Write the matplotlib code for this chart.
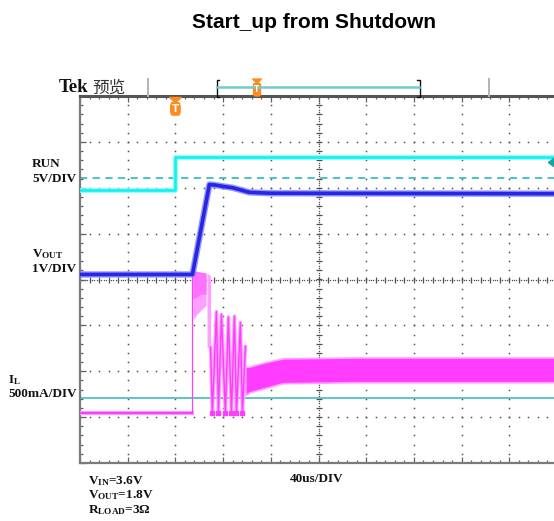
import matplotlib
matplotlib.use("Agg")
import matplotlib.pyplot as plt
import matplotlib.transforms as mtransforms
from matplotlib.patches import Polygon, FancyBboxPatch
from matplotlib.lines import Line2D
from matplotlib.ticker import MultipleLocator
import numpy as np

plt.rcParams['mathtext.fontset'] = 'custom'
plt.rcParams['mathtext.rm'] = 'Liberation Serif:bold'
plt.rcParams['mathtext.it'] = 'Liberation Serif:bold'
plt.rcParams['mathtext.bf'] = 'Liberation Serif:bold'

# ---------------- data ----------------
title = "Start_up from Shutdown"
t_min, t_max = -80, 320          # us, 40 us/div, trigger at 0

# RUN channel (5 V/div)
run_t = [-80, 0, 0, 320]
run_v = [0.0, 0.0, 3.6, 3.6]

# VOUT channel (1 V/div)
vout_t = [-80, 14.3, 28.5, 33, 40, 48, 55, 62, 80, 320]
vout_v = [0.11, 0.11, 2.07, 2.06, 2.03, 2.0, 1.95, 1.9, 1.88, 1.87]

# IL channel (500 mA/div)
il_pre_t = [-80, 14.3]
il_pre_v = [0.0, 0.0]
il_edge_t = [14.3, 14.3]
il_edge_v = [0.0, 1.55]
il_burst_t = [14.6, 18, 21, 25.7]
il_burst_hi = [1.55, 1.55, 1.54, 1.53]
il_burst_mid = [1.25, 1.27, 1.3, 1.3]
il_burst_lo = [1.02, 1.08, 1.12, 1.18]
il_drop_t = [26.5, 29.5]
il_drop_hi = [1.53, 1.50]
il_drop_lo = [0.72, 0.72]
il_pulse_t = [29.5, 31.0, 34.4, 36.1, 38.6, 41.9, 44.4, 47.0, 49.5, 51.2, 54.5, 56.2, 58.7]
il_pulse_v = [0.72, 0.0, 1.11, 0.0, 1.08, 0.0, 1.05, 0.0, 1.06, 0.0, 0.99, 0.0, 0.73]
il_band_t = [58.7, 62, 76, 90, 150, 320]
il_band_hi = [0.51, 0.51, 0.56, 0.60, 0.61, 0.61]
il_band_lo = [0.20, 0.23, 0.28, 0.33, 0.34, 0.34]

channel_labels = ["RUN", "5V/DIV", r"$\mathrm{V_{OUT}}$", "1V/DIV",
                  r"$\mathrm{I_{L}}$", "500mA/DIV"]
time_label = "40us/DIV"
cond_labels = [r"$\mathrm{V_{IN}}$=3.6V", r"$\mathrm{V_{OUT}}$=1.8V",
               r"$\mathrm{R_{LOAD}}$=3Ω"]

# ---------------- layout / style ----------------
W, H = 554, 521
RUN_OFF, RUN_SC = 1.96, 5.0
VOUT_OFF, VOUT_SC = 0.0, 1.0
IL_OFF, IL_SC = -2.92, 0.5
TRIG_LEVEL_DIV = 2.22
ARROW_DIV = 2.55
IL_REF_DIV = -2.59

C_RUN = '#10F0F0'
C_RUN_L = '#80FFFF'
C_VOUT = '#2626E4'
C_VOUT_L = '#7A7AFF'
C_IL = '#FF3CFF'
C_IL_L = '#FFA0FF'
C_TEAL = '#5CC6C6'
C_ORANGE = '#FF8A1E'
C_DOT = '#505050'


def d(v, off, sc):
    return off + np.asarray(v, dtype=float) / sc


fig = plt.figure(figsize=(W / 100, H / 100), dpi=100)
fig.patch.set_facecolor('white')
ax = fig.add_axes([80 / W, (H - 463) / H, 477 / W, 367 / H])
ax.set_xlim(t_min, t_max)
ax.set_ylim(-4, 4)
ax.set_facecolor('white')

# ---- graticule ----
ys_fine = np.arange(-4, 4.001, 0.2)
xs_fine = np.arange(t_min, t_max + 0.01, 8)
for x in range(-40, 320, 40):
    if x == 120:
        continue
    ax.plot([x] * len(ys_fine), ys_fine, ls='none', marker='s', ms=1.1,
            color=C_DOT, mew=0, zorder=1)
for y in range(-3, 4):
    if y == 0:
        continue
    ax.plot(xs_fine, [y] * len(xs_fine), ls='none', marker='s', ms=1.1,
            color=C_DOT, mew=0, zorder=1)
# centre lines
ys_dense = np.arange(-4, 4.001, 0.05)
xs_dense = np.arange(t_min, t_max + 0.01, 2)
ax.plot([120] * len(ys_dense), ys_dense, ls='none', marker='s', ms=0.9,
        color=C_DOT, mew=0, zorder=1)
ax.plot([120] * len(ys_fine), ys_fine, ls='none', marker='_', ms=5,
        color=C_DOT, mew=0.9, zorder=1)
ax.plot(xs_dense, [0] * len(xs_dense), ls='none', marker='s', ms=0.9,
        color=C_DOT, mew=0, zorder=1)
ax.plot(xs_fine, [0] * len(xs_fine), ls='none', marker='|', ms=5,
        color=C_DOT, mew=0.9, zorder=1)

ax.xaxis.set_major_locator(MultipleLocator(40))
ax.xaxis.set_minor_locator(MultipleLocator(8))
ax.yaxis.set_major_locator(MultipleLocator(1))
ax.yaxis.set_minor_locator(MultipleLocator(0.2))
ax.tick_params(which='both', direction='in', top=True, bottom=True, left=True,
               right=False, labelbottom=False, labelleft=False, color='#606060',
               width=0.9)
ax.tick_params(which='major', length=4.5)
ax.tick_params(which='minor', length=2.5)
for s in ['left', 'bottom']:
    ax.spines[s].set_color('#7a7a7a')
    ax.spines[s].set_linewidth(1.6)
ax.spines['top'].set_color('#555555')
ax.spines['top'].set_linewidth(2.2)
ax.spines['right'].set_visible(False)

# ---- reference lines ----
ax.axhline(TRIG_LEVEL_DIV, color='#3CBFBF', lw=1.3, ls=(0, (4, 3)), zorder=2)
ax.axhline(IL_REF_DIV, color=C_TEAL, lw=1.4, zorder=2)

# ---- IL trace ----
ax.plot(il_pre_t, d(il_pre_v, IL_OFF, IL_SC), color=C_IL_L, lw=3.0, zorder=3)
ax.plot(il_pre_t, d(il_pre_v, IL_OFF, IL_SC), color=C_IL, lw=1.6, zorder=3)
ax.plot(il_edge_t, d(il_edge_v, IL_OFF, IL_SC), color=C_IL, lw=0.9, zorder=3)
ax.fill_between(il_burst_t, d(il_burst_lo, IL_OFF, IL_SC),
                d(il_burst_hi, IL_OFF, IL_SC), color=C_IL_L, lw=0, zorder=3)
ax.fill_between(il_burst_t, d(il_burst_mid, IL_OFF, IL_SC),
                d(il_burst_hi, IL_OFF, IL_SC), color='#FF70FF', lw=0, zorder=3)
ax.fill_between(il_drop_t, d(il_drop_lo, IL_OFF, IL_SC),
                d(il_drop_hi, IL_OFF, IL_SC), color=C_IL_L, lw=0, zorder=3)
ax.plot(il_pulse_t, d(il_pulse_v, IL_OFF, IL_SC), color=C_IL_L, lw=2.6, zorder=3)
ax.plot(il_pulse_t, d(il_pulse_v, IL_OFF, IL_SC), color=C_IL, lw=1.0, zorder=3)
ax.plot(il_pulse_t[1::2], d(il_pulse_v[1::2], IL_OFF, IL_SC), ls='none',
        marker='s', ms=3, color=C_IL, zorder=3)
ax.fill_between(il_band_t, d(il_band_lo, IL_OFF, IL_SC),
                d(il_band_hi, IL_OFF, IL_SC), color=C_IL, lw=1.2,
                edgecolor=C_IL_L, zorder=3)

# ---- VOUT trace ----
ax.plot(vout_t, d(vout_v, VOUT_OFF, VOUT_SC), color=C_VOUT_L, lw=4.6, alpha=0.8,
        zorder=4)
ax.plot(vout_t, d(vout_v, VOUT_OFF, VOUT_SC), color=C_VOUT, lw=2.6, zorder=4)

# ---- RUN trace ----
ax.plot(run_t, d(run_v, RUN_OFF, RUN_SC), color=C_RUN_L, lw=3.4, zorder=5)
ax.plot(run_t, d(run_v, RUN_OFF, RUN_SC), color=C_RUN, lw=1.8, zorder=5)

# ---- trigger marker (T at t=0) ----
btr = mtransforms.blended_transform_factory(ax.transData, ax.transAxes)
ax.add_patch(Polygon([(-5, 0.996), (5, 0.996), (0, 0.982)], closed=True,
                     color=C_ORANGE, transform=btr, clip_on=False, zorder=6))
ax.add_patch(FancyBboxPatch((-4.0, 0.948), 8.0, 0.034,
                            boxstyle='round,pad=0,rounding_size=1.5',
                            color=C_ORANGE, transform=btr, clip_on=False,
                            zorder=6, mutation_aspect=0.01))
ax.text(0, 0.965, 'T', transform=btr, ha='center', va='center', color='white',
        fontsize=7.5, fontweight='bold', family='DejaVu Sans', zorder=7)

# trigger-level arrow on right edge
ax.add_patch(Polygon([(312.8, ARROW_DIV), (319, ARROW_DIV + 0.12),
                      (319, ARROW_DIV - 0.12)], closed=True, color='#1AA3A3',
                     zorder=6, clip_on=False))


# ---------------- texts & top bar ----------------
def fx(px):
    return px / W


def fy(py):
    return 1 - py / H


fig.text(fx(314), fy(28), title, ha='center', va='baseline', fontsize=15,
         fontweight='bold', family='Liberation Sans')
fig.text(fx(59), fy(92.5), 'Tek', ha='left', va='baseline', fontsize=13.5,
         fontweight='bold', family='Liberation Serif', color='#111111')
fig.text(fx(92), fy(93), '预览', ha='left', va='baseline', fontsize=12,
         family=['Noto Sans CJK SC', 'DejaVu Sans'], fontweight='light',
         color='#333333')

for px in (148, 489):
    fig.add_artist(Line2D([fx(px), fx(px)], [fy(79), fy(96)], color='#b4b4b4',
                          lw=1.4))
# record bracket
fig.add_artist(Line2D([fx(219), fx(216.5), fx(216.5), fx(219)],
                      [fy(80), fy(80), fy(97), fy(97)], color='#111111', lw=1.0))
fig.add_artist(Line2D([fx(417), fx(420), fx(420), fx(417)],
                      [fy(80), fy(80), fy(97), fy(97)], color='#111111', lw=1.0))
fig.add_artist(Line2D([fx(217), fx(419)], [fy(87), fy(87)], color='#72CACA',
                      lw=1.8))
fig.add_artist(Polygon([(fx(252.5), fy(79)), (fx(261.5), fy(79)),
                        (fx(257), fy(83))], closed=True, color=C_ORANGE,
                       transform=fig.transFigure))
fig.add_artist(FancyBboxPatch((fx(253.5), fy(96)), fx(7), fy(83) - fy(96),
                              boxstyle='round,pad=0,rounding_size=0.004',
                              color=C_ORANGE, transform=fig.transFigure))
fig.text(fx(257), fy(89.5), 'T', ha='center', va='center', color='white',
         fontsize=5.5, fontweight='bold', family='DejaVu Sans')

lab_kw = dict(ha='left', va='baseline', fontsize=9.5, fontweight='bold',
              family='Liberation Serif', color='#111111')
lab_pos = [(32, 167), (32, 182), (32, 257), (32, 272), (8, 383), (8, 397)]
for (px, py), s in zip(lab_pos, channel_labels):
    fig.text(fx(px), fy(py), s, **lab_kw)

fig.text(fx(290), fy(482), time_label, **lab_kw)
cond_pos = [(88, 484), (88, 498), (88, 513)]
for (px, py), s in zip(cond_pos, cond_labels):
    fig.text(fx(px), fy(py), s, **lab_kw)

fig.savefig('out.png', dpi=100, facecolor='white')
